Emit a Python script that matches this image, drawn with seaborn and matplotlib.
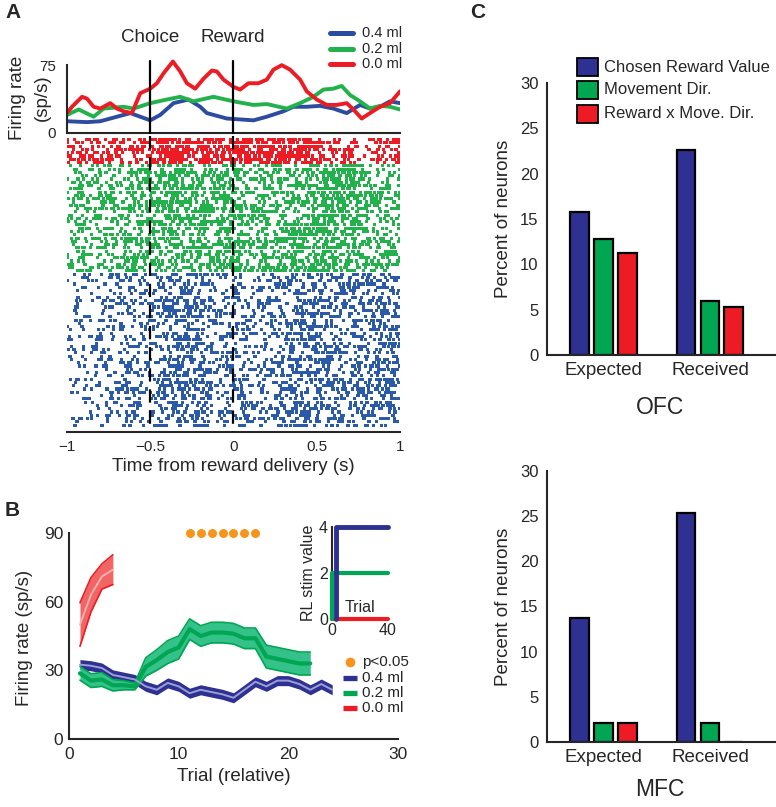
import numpy as np
import pandas as pd
import matplotlib
matplotlib.use("Agg")
import matplotlib.pyplot as plt
import seaborn as sns
from matplotlib.lines import Line2D
from matplotlib.patches import Rectangle

sns.set_style("white")
plt.rcParams["font.family"] = ["Liberation Sans", "DejaVu Sans"]
plt.rcParams["axes.linewidth"] = 1.5

# ---------------- data ----------------
# Panel A: PSTH (time from reward delivery, firing rate sp/s)
psth_t_red = [-1, -0.97, -0.91, -0.88, -0.84, -0.8, -0.74, -0.7, -0.66, -0.61, -0.56, -0.5, -0.46, -0.42,
              -0.364, -0.32, -0.28, -0.23, -0.18, -0.13, -0.1, -0.06, 0, 0.04, 0.09, 0.15, 0.2, 0.24, 0.29,
              0.34, 0.4, 0.44, 0.5, 0.56, 0.62, 0.68, 0.72, 0.77, 0.82, 0.88, 0.94, 1.0]
psth_v_red = [22, 29, 40, 38, 29, 27, 33, 27, 24, 22, 44, 49, 55, 66, 79, 68, 55, 49, 60, 69, 68, 59, 51,
              48, 55, 55, 59, 70, 75, 70, 59, 46, 37, 31, 31, 33, 26, 16, 22, 29, 33, 46]
psth_t_green = [-1, -0.93, -0.84, -0.78, -0.66, -0.6, -0.5, -0.4, -0.32, -0.24, -0.12, 0, 0.12, 0.2, 0.32,
                0.4, 0.48, 0.54, 0.6, 0.65, 0.7, 0.76, 0.82, 0.88, 0.94, 1.0]
psth_v_green = [20, 26, 18, 27, 29, 27, 33, 37, 40, 35, 40, 35, 31, 32, 27, 33, 40, 48, 49, 52, 42, 35, 27,
                30, 29, 26]
psth_t_blue = [-1, -0.88, -0.8, -0.7, -0.62, -0.56, -0.5, -0.44, -0.36, -0.27, -0.2, -0.16, -0.04, 0.04,
               0.12, 0.2, 0.3, 0.36, 0.44, 0.52, 0.6, 0.68, 0.76, 0.82, 0.88, 0.94, 1.0]
psth_v_blue = [13, 12, 13, 18, 22, 18, 14, 20, 33, 37, 29, 22, 16, 15, 14, 18, 24, 29, 29, 30, 27, 22, 31,
               27, 29, 35, 33]
raster_rows = {"0.0 ml": 8, "0.2 ml": 33, "0.4 ml": 47}
event_times = [-0.5, 0.0]
event_labels = ["Choice", "Reward"]
a_xticks = [-1, -0.5, 0, 0.5, 1]

# Panel B: firing rate vs trial
b_trials_red = [1, 2, 3, 4]
b_mean_red = [50, 63, 71, 74]
b_half_red = [9.5, 7.5, 5.5, 6.5]
b_trials_green = list(range(1, 23))
b_mean_green = [28.7, 25.5, 26, 23.5, 23.5, 23, 31.5, 34.5, 38, 40, 48, 45, 46.5, 46.5, 46, 44, 44, 36, 35,
                34, 33, 33]
b_half_green = [3, 3, 3, 2.5, 2, 1.5, 4, 4.5, 5, 5, 4.5, 4.5, 4.5, 4.5, 4.5, 4.5, 4.5, 5, 5, 5, 5, 5]
b_trials_blue = list(range(1, 25))
b_mean_blue = [32.5, 32, 31, 28, 27, 26, 23, 21.5, 24.5, 23, 20, 21.5, 20.5, 19.5, 18, 21.5, 25, 23, 25.5,
               25.5, 24, 21.5, 24, 21.5]
b_half_blue = [2.2] * 24
sig_trials = [11, 12, 13, 14, 15, 16, 17]
sig_level = 90
# inset RL stim value
rl_x_blue = [3, 3, 40]
rl_y_blue = [0, 4, 4]
rl_x_green = [0, 0, 40]
rl_y_green = [0, 2, 2]
rl_x_red = [0, 40]
rl_y_red = [0, 0]

# Panel C: percent of neurons
c_epochs = ["Expected", "Received"]
c_vars = ["Chosen Reward Value", "Movement Dir.", "Reward x Move. Dir."]
ofc_expected = [15.8, 12.8, 11.3]
ofc_received = [22.6, 6.0, 5.3]
mfc_expected = [13.7, 2.1, 2.1]
mfc_received = [25.3, 2.1, 0.0]

# ---------------- colours ----------------
NAVY = "#2e3192"
GREEN = "#00a651"
RED = "#ed1c24"
ORANGE = "#f7941d"
A_BLUE = "#2c4c9f"
A_GREEN = "#22b24b"
R_BLUE = "#2b5aa8"

W, H = 776, 807
fig = plt.figure(figsize=(W / 100, H / 100), dpi=100)


def ax_px(l, t, r, b):
    return fig.add_axes([l / W, 1 - b / H, (r - l) / W, (b - t) / H])


def fx(x):
    return x / W


def fy(y):
    return 1 - y / H


# ================= Panel A: PSTH =================
axp = ax_px(67, 57, 400, 133)
for t, v, c in [(psth_t_blue, psth_v_blue, A_BLUE), (psth_t_green, psth_v_green, A_GREEN),
                (psth_t_red, psth_v_red, RED)]:
    sns.lineplot(x=t, y=v, color=c, lw=2.8, ax=axp, legend=False)
for et in event_times:
    axp.plot([et, et], [0, 79.5], color="black", lw=1.6, zorder=5, clip_on=False)
axp.set_xlim(-1, 1)
axp.set_ylim(0, 84)
axp.set_yticks([0, 37.5, 75])
axp.set_yticklabels(["0", "", "75"])
axp.set_xticks([])
axp.spines["top"].set_visible(False)
axp.spines["right"].set_visible(False)
axp.spines["left"].set_bounds(0, 75)
axp.tick_params(axis="y", direction="out", length=6, width=1.5, labelsize=11, pad=2)
axp.set_xlabel("")
axp.set_ylabel("")

for lab, et in zip(event_labels, event_times):
    fig.text(fx(150 + (et + 0.5) * 166.5), fy(37), lab, ha="center", va="center", fontsize=13.5)

# legend A
for i, (lab, c) in enumerate([("0.4 ml", A_BLUE), ("0.2 ml", A_GREEN), ("0.0 ml", RED)]):
    y = [33, 49, 64][i]
    fig.add_artist(Line2D([fx(330), fx(353)], [fy(y), fy(y)], color=c, lw=3.6,
                          transform=fig.transFigure))
    fig.text(fx(362), fy(y), lab, ha="left", va="center", fontsize=10.5)

fig.text(fx(18), fy(98), "Firing rate", rotation=90, ha="center", va="center", fontsize=13.5)
fig.text(fx(42), fy(98), "(sp/s)", rotation=90, ha="center", va="center", fontsize=13.5)

# ================= Panel A: raster =================
axr = ax_px(67, 136, 400, 432)
tg = np.linspace(-1, 1, 4001)
dt = tg[1] - tg[0]
A1 = 0.6180339887498949
A2 = 0.7548776662466927
RATE_GAIN = 1.1
counter = [0]


def rows_from_rate(tp, vp, nrows, row0):
    # spike trains laid out deterministically from the PSTH rate (time-rescaled intervals,
    # quadratic Weyl sequence for the unit intervals)
    rate = np.interp(tg, tp, vp) * RATE_GAIN
    cum = np.cumsum(rate) * dt
    xs, ys = [], []
    for k in range(nrows):
        base = 0.0
        while True:
            counter[0] += 1
            n = counter[0]
            u = (n * n * A1 * 0.5 + n * A2) % 1.0
            base += -np.log(1 - 0.98 * u)
            idx = np.searchsorted(cum, base)
            if idx >= len(tg):
                break
            xs.append(tg[idx])
            ys.append(row0 + k)
    return xs, ys


rx, ry, rc = [], [], []
row = 0
for (t, v, c, n) in [(psth_t_red, psth_v_red, RED, raster_rows["0.0 ml"]),
                     (psth_t_green, psth_v_green, A_GREEN, raster_rows["0.2 ml"]),
                     (psth_t_blue, psth_v_blue, R_BLUE, raster_rows["0.4 ml"])]:
    xs, ys = rows_from_rate(t, v, n, row)
    rx += xs
    ry += ys
    rc += [c] * len(xs)
    row += n
raster_df = pd.DataFrame({"t": rx, "trial": ry, "col": rc})
sns.scatterplot(data=raster_df, x="t", y="trial", hue="col", palette={RED: RED, A_GREEN: A_GREEN, R_BLUE: R_BLUE},
                marker="s", s=5.0, linewidth=0, ax=axr, legend=False)
for et in event_times:
    axr.plot([et, et], [-1.1, 89.1], color="black", lw=1.6, ls=(0, (6, 3.5)), zorder=5)
axr.set_xlim(-1, 1)
axr.set_ylim(89.1, -1.1)
axr.set_yticks([])
axr.set_xticks(a_xticks)
axr.set_xticklabels(["\u22121", "\u22120.5", "0", "0.5", "1"])
for s in ["top", "right", "left"]:
    axr.spines[s].set_visible(False)
axr.tick_params(axis="x", direction="in", length=4, width=1.5, labelsize=11, pad=6)
axr.set_xlabel("Time from reward delivery (s)", fontsize=13.5, labelpad=3)
axr.set_ylabel("")

# ================= Panel B =================
axb = ax_px(69, 533, 398, 739)
# bands
axb.fill_between(b_trials_blue, np.array(b_mean_blue) - np.array(b_half_blue),
                 np.array(b_mean_blue) + np.array(b_half_blue), color=NAVY, lw=0, zorder=2)
sns.lineplot(x=b_trials_blue, y=b_mean_blue, color="#9c9ed6", lw=1.4, ax=axb, legend=False, zorder=3)
gm = np.array(b_mean_green)
gh = np.array(b_half_green)
axb.fill_between(b_trials_green, gm - gh, gm + gh, color="#34c28a", lw=0, zorder=2.5)
axb.plot(b_trials_green, gm - gh, color=GREEN, lw=1.2, zorder=2.6)
axb.plot(b_trials_green, gm + gh, color=GREEN, lw=1.2, zorder=2.6)
sns.lineplot(x=b_trials_green, y=b_mean_green, color=GREEN, lw=3, ax=axb, legend=False, zorder=2.7)
rm = np.array(b_mean_red)
rh = np.array(b_half_red)
axb.fill_between(b_trials_red, rm - rh, rm + rh, color="#f26565", lw=0, zorder=2)
axb.plot(b_trials_red, rm - rh, color=RED, lw=1.2, zorder=2.1)
axb.plot(b_trials_red, rm + rh, color=RED, lw=1.2, zorder=2.1)
sns.lineplot(x=b_trials_red, y=b_mean_red, color="#f7b0b0", lw=1.4, ax=axb, legend=False, zorder=3)
sns.scatterplot(x=sig_trials, y=[sig_level] * len(sig_trials), color=ORANGE, s=42, linewidth=0, ax=axb,
                legend=False, clip_on=False, zorder=4)
axb.set_xlim(0, 30)
axb.set_ylim(0, 90)
axb.set_xticks([0, 10, 20, 30])
axb.set_yticks(list(range(0, 91, 10)))
axb.set_yticklabels(["0", "", "", "30", "", "", "60", "", "", "90"])
axb.spines["top"].set_visible(False)
axb.spines["right"].set_visible(False)
axb.tick_params(direction="in", length=5, width=1.5, labelsize=12.5)
axb.tick_params(axis="x", pad=6)
axb.tick_params(axis="y", pad=4)
axb.set_xlabel("Trial (relative)", fontsize=13.5, labelpad=4)
axb.set_ylabel("")
fig.text(fx(25), fy(638), "Firing rate (sp/s)", rotation=90, ha="center", va="center", fontsize=13.5)

# legend B
fig.add_artist(Line2D([fx(350)], [fy(662)], marker="o", ms=6, color=ORANGE, lw=0,
                      transform=fig.transFigure))
fig.text(fx(362), fy(662), "p<0.05", ha="left", va="center", fontsize=11)
for y, lab, c in [(678, "0.4 ml", NAVY), (693, "0.2 ml", GREEN), (708, "0.0 ml", RED)]:
    fig.add_artist(Line2D([fx(343), fx(357)], [fy(y), fy(y)], color=c, lw=3.8, solid_capstyle="butt",
                          transform=fig.transFigure))
    fig.text(fx(362), fy(y), lab, ha="left", va="center", fontsize=11)

# inset
axi = ax_px(332, 527, 388, 619)
axi.set_axisbelow(False)
sns.lineplot(x=rl_x_red, y=rl_y_red, color=RED, lw=3, ax=axi, legend=False, zorder=2,
             estimator=None, sort=False)
sns.lineplot(x=rl_x_green, y=rl_y_green, color=GREEN, lw=3, ax=axi, legend=False, zorder=3,
             estimator=None, sort=False)
sns.lineplot(x=rl_x_blue, y=rl_y_blue, color=NAVY, lw=3.5, ax=axi, legend=False, zorder=3.2,
             estimator=None, sort=False)
for ln in axi.lines:
    ln.set_clip_on(False)
axi.set_xlim(0, 40)
axi.set_ylim(0, 4)
axi.set_facecolor("none")
axi.spines["top"].set_visible(False)
axi.spines["right"].set_visible(False)
axi.spines["bottom"].set_visible(False)
axi.set_xticks([0, 10, 20, 30, 40])
axi.set_xticklabels(["0", "", "", "", "40"])
axi.set_yticks([0, 2, 4])
axi.tick_params(direction="in", length=3, width=1.5, labelsize=11.5, pad=3)
axi.set_ylabel("RL stim value", fontsize=11.5, labelpad=2)
axi.set_xlabel("")
axi.text(20, 0.48, "Trial", ha="center", va="center", fontsize=11.5)

# ================= Panel C =================
pal = [NAVY, GREEN, RED]


def bar_panel(box, vals_exp, vals_rec, name, name_y):
    ax = ax_px(*box)
    df = pd.DataFrame({"epoch": [c_epochs[0]] * 3 + [c_epochs[1]] * 3,
                       "var": c_vars * 2,
                       "pct": list(vals_exp) + list(vals_rec)})
    sns.barplot(data=df, x="epoch", y="pct", hue="var", palette=pal, hue_order=c_vars, order=c_epochs,
                width=0.676, gap=0.21, edgecolor="black", linewidth=1.6, ax=ax, legend=False,
                errorbar=None, saturation=1)
    ax.set_xlim(-0.5305, 1.62)
    ax.set_ylim(0, 30)
    ax.set_yticks([0, 5, 10, 15, 20, 25, 30])
    ax.spines["top"].set_visible(False)
    ax.spines["right"].set_visible(False)
    ax.tick_params(axis="y", direction="out", length=3, width=1.5, labelsize=12, pad=3)
    ax.tick_params(axis="x", length=0, labelsize=13.5, pad=5)
    ax.set_xlabel("")
    ax.set_ylabel("Percent of neurons", fontsize=13.5, labelpad=6)
    fig.text(fx(660), fy(name_y), name, ha="center", va="center", fontsize=16.5)
    return ax


bar_panel((547, 83, 776, 355), ofc_expected, ofc_received, "OFC", 408)
bar_panel((547, 471, 776, 742), mfc_expected, mfc_received, "MFC", 790)

for y, lab, c in zip([67, 90, 114], c_vars, pal):
    fig.add_artist(Rectangle((fx(577), fy(y + 9)), (598 - 577) / W, 18 / H, facecolor=c, edgecolor="black",
                             lw=1.3, transform=fig.transFigure))
    fig.text(fx(604), fy(y), lab, ha="left", va="center", fontsize=12)

# panel letters
fig.text(fx(5), fy(13), "A", ha="left", va="center", fontsize=15, fontweight="bold")
fig.text(fx(5), fy(510), "B", ha="left", va="center", fontsize=15, fontweight="bold")
fig.text(fx(470), fy(13), "C", ha="left", va="center", fontsize=15, fontweight="bold")

fig.savefig("out.png", dpi=100)
